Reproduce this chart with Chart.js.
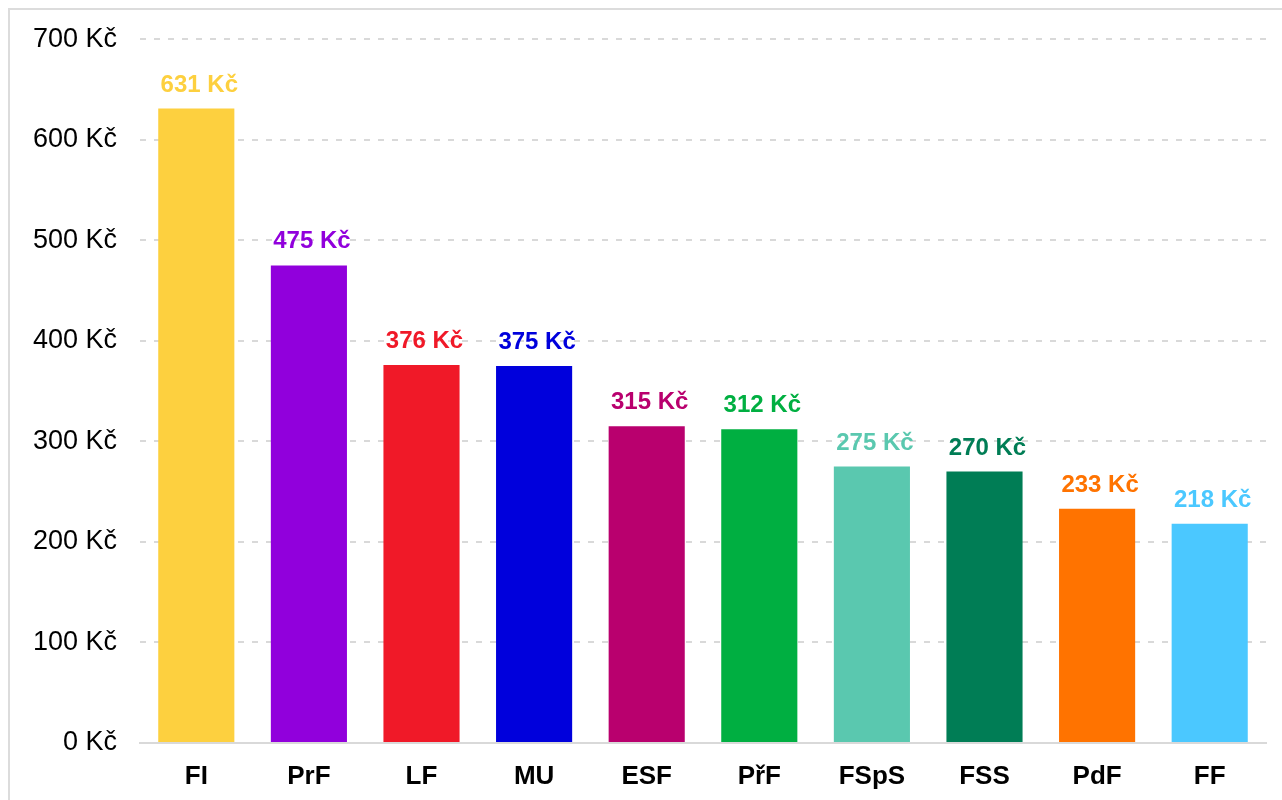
<!DOCTYPE html>
<html>
<head>
<meta charset="utf-8">
<script src="https://cdn.jsdelivr.net/npm/chart.js@4/dist/chart.umd.min.js"></script>
<style>
  html, body { margin: 0; padding: 0; background: #fff; overflow: hidden; }
  #frame { position: absolute; left: 8px; top: 8px; width: 1400px; height: 900px; border: 2px solid #dcdcdc; box-sizing: border-box; }
  #c { position: absolute; left: 0; top: 0; }
</style>
</head>
<body>
<div id="frame"></div>
<canvas id="c" width="1282" height="800"></canvas>
<script>
const categories = ["FI", "PrF", "LF", "MU", "ESF", "PřF", "FSpS", "FSS", "PdF", "FF"];
const values = [631, 475, 376, 375, 315, 312, 275, 270, 233, 218];
const colors = ["#FDD03F", "#9100DC", "#F01928", "#0000DC", "#B9006E", "#00AF41", "#5AC8AF", "#007D55", "#FF7300", "#4BC8FF"];
const yTicks = [0, 100, 200, 300, 400, 500, 600, 700];
const unit = " Kč";

const valueLabels = {
  id: 'valueLabels',
  afterDatasetsDraw(chart) {
    const ctx = chart.ctx;
    const meta = chart.getDatasetMeta(0);
    ctx.save();
    ctx.font = 'bold 24px "Liberation Sans", Arial, sans-serif';
    ctx.textAlign = 'center';
    ctx.textBaseline = 'alphabetic';
    meta.data.forEach((bar, i) => {
      ctx.fillStyle = colors[i];
      ctx.fillText(values[i] + unit, bar.x + 3, bar.y - 17);
    });
    ctx.restore();
  }
};

new Chart(document.getElementById('c'), {
  type: 'bar',
  data: {
    labels: categories,
    datasets: [{
      data: values,
      backgroundColor: colors,
      borderWidth: 0,
      categoryPercentage: 1,
      barPercentage: 0.676
    }]
  },
  options: {
    responsive: false,
    animation: false,
    devicePixelRatio: 1,
    layout: { padding: { top: 38, right: 16, bottom: 0, left: 0 } },
    plugins: { legend: { display: false }, tooltip: { enabled: false } },
    scales: {
      x: {
        grid: { display: false, drawTicks: false },
        border: { display: true, color: '#d9d9d9', width: 2 },
        ticks: {
          color: '#000',
          padding: 18,
          font: { family: '"Liberation Sans", Arial, sans-serif', size: 26, weight: 'bold' }
        },
        afterFit(scale) { scale.height = 57; }
      },
      y: {
        min: 0,
        max: 700,
        afterBuildTicks(scale) { scale.ticks = yTicks.map(v => ({ value: v })); },
        grid: { color: '#d9d9d9', lineWidth: 2, drawTicks: false },
        border: { display: false, dash: [6, 8] },
        ticks: {
          color: '#000',
          padding: 23,
          font: { family: '"Liberation Sans", Arial, sans-serif', size: 27 },
          callback: (v) => v + unit
        },
        afterFit(scale) { scale.width = 140; }
      }
    }
  },
  plugins: [valueLabels]
});
</script>
</body>
</html>
